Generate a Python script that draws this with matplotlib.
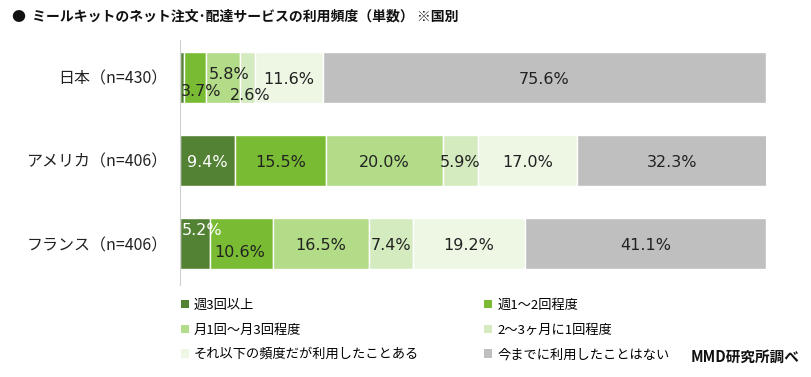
import matplotlib.pyplot as plt
from matplotlib.patches import Patch

plt.rcParams['font.family'] = ['Noto Sans CJK JP', 'DejaVu Sans']

countries = ['日本（n=430）', 'アメリカ（n=406）', 'フランス（n=406）']
series_names = ['週3回以上', '週1～2回程度', '月1回～月3回程度',
                '2～3ヶ月に1回程度', 'それ以下の頻度だが利用したことある', '今までに利用したことはない']
japan = [0.7, 3.7, 5.8, 2.6, 11.6, 75.6]
america = [9.4, 15.5, 20.0, 5.9, 17.0, 32.3]
france = [5.2, 10.6, 16.5, 7.4, 19.2, 41.1]
values = [japan, america, france]

colors = ['#548235', '#79BC33', '#B2DC87', '#D4EBC0', '#EDF7E4', '#BFBFBF']
text_colors = ['white', '#222222', '#222222', '#222222', '#222222', '#222222']

# label nudges (x in %, y in bar units) where the reference moves small labels
nudges = {
    (0, 0): None,
    (0, 1): (1.0, 0.17),
    (0, 2): (1.0, -0.04),
    (0, 3): (0.5, 0.22),
    (0, 4): (0.0, 0.03),
    (2, 0): (1.2, -0.16),
    (2, 1): (-0.3, 0.11),
}

fig = plt.figure(figsize=(8.12, 3.77), dpi=100)
ax = fig.add_axes([180 / 812, 1 - 285 / 377, 586 / 812, 245 / 377])

for i, row in enumerate(values):
    left = 0
    for j, v in enumerate(row):
        ax.barh(i, v, left=left, height=0.61, color=colors[j], edgecolor='white', linewidth=1)
        key = (i, j)
        if key in nudges and nudges[key] is None:
            left += v
            continue
        dx, dy = nudges.get(key, (0, 0.03))
        ax.text(left + v / 2 + dx, i + dy, f'{v:.1f}%', ha='center', va='center',
                fontsize=11.5, color=text_colors[j], family='DejaVu Sans')
        left += v

ax.set_xlim(0, 100)
ax.set_ylim(2.5, -0.45)
ax.set_yticks(range(len(countries)))
ax.set_yticklabels(countries, fontsize=11.5, color='#222222')
ax.tick_params(axis='y', length=0, pad=9)
ax.set_xticks([])
for s in ['top', 'right', 'bottom']:
    ax.spines[s].set_visible(False)
ax.spines['left'].set_color('#D0D0D0')

fig.text(12 / 812, 1 - 17 / 377, '●  ミールキットのネット注文･配達サービスの利用頻度（単数） ※国別',
         fontsize=10, fontweight='bold', va='center', ha='left', color='#111111')

handles = [Patch(facecolor=c, edgecolor='none') for c in colors]
order = [0, 2, 4, 1, 3, 5]
fig.legend([handles[k] for k in order], [series_names[k] for k in order],
           ncol=2, loc='upper left', bbox_to_anchor=(169 / 812, 1 - 287 / 377),
           frameon=False, fontsize=9.5, handlelength=0.6, handleheight=0.6,
           handletextpad=0.4, labelspacing=0.88, columnspacing=4.9)

fig.text(800 / 812, 1 - 357 / 377, 'MMD研究所調べ', fontsize=10.5, fontweight='bold',
         ha='right', va='center', color='#111111')

fig.savefig('out.png', dpi=100)
